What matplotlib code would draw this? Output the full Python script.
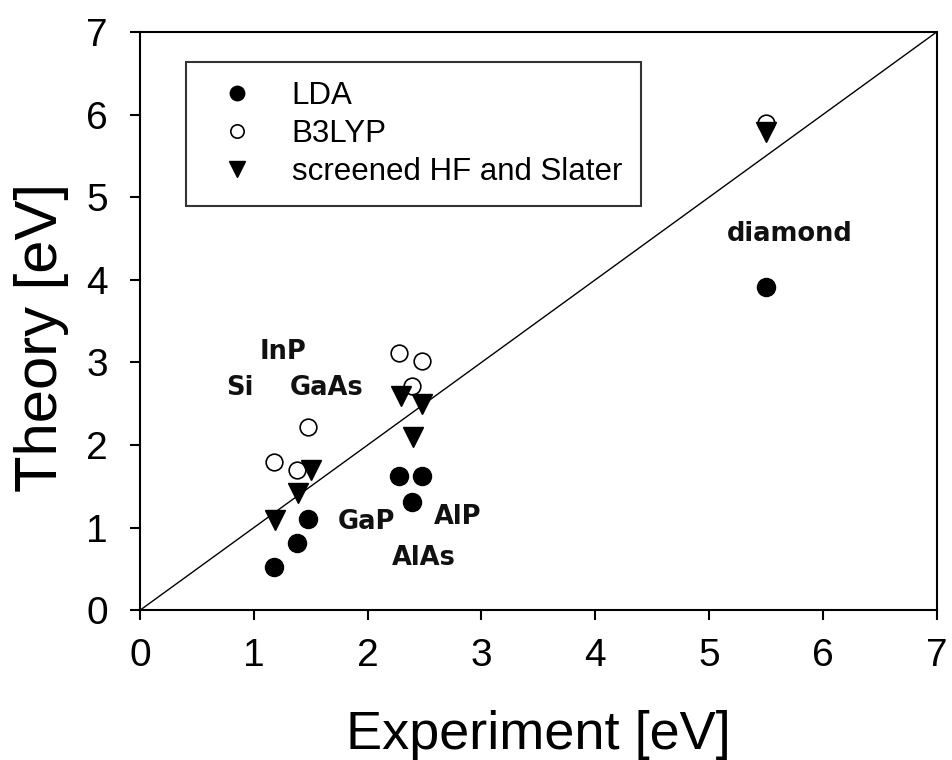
import matplotlib
matplotlib.use("Agg")
import matplotlib.pyplot as plt

# Band gaps
lda_exp = [1.18, 1.38, 1.48, 2.28, 2.48, 2.39, 5.5]
lda_th = [0.52, 0.81, 1.11, 1.63, 1.63, 1.31, 3.91]

b3lyp_exp = [1.18, 1.38, 1.48, 2.28, 2.48, 2.39, 5.5]
b3lyp_th = [1.80, 1.70, 2.22, 3.11, 3.02, 2.72, 5.90]

shf_exp = [1.19, 1.39, 1.50, 2.29, 2.48, 2.40, 5.5]
shf_th = [1.09, 1.42, 1.70, 2.59, 2.50, 2.10, 5.79]

# Material labels and their positions (data units)
materials = ["diamond", "InP", "Si", "GaAs", "GaP", "AlP", "AlAs"]
label_x = [5.71, 1.26, 0.88, 1.64, 1.99, 2.79, 2.49]
label_y = [4.56, 3.12, 2.69, 2.69, 1.07, 1.13, 0.63]

ticks = [0, 1, 2, 3, 4, 5, 6, 7]

plt.rcParams['font.family'] = ['Liberation Sans', 'DejaVu Sans']

fig = plt.figure(figsize=(9.52, 7.6), dpi=100)
ax = fig.add_axes([0.147, 0.197, 0.837, 0.761])

# 1:1 line
ax.plot([0, 7], [0, 7], color="black", linewidth=1.0, zorder=1)

ax.plot(lda_exp, lda_th, linestyle="none", marker="o", markersize=13,
        color="black", label="LDA", zorder=3)
ax.plot(b3lyp_exp, b3lyp_th, linestyle="none", marker="o", markersize=12,
        markerfacecolor="white", markeredgecolor="black", markeredgewidth=1.2,
        label="B3LYP", zorder=2)
ax.plot(shf_exp, shf_th, linestyle="none", marker="v", markersize=14,
        color="black", label="screened HF and Slater", zorder=4)

for name, x, y in zip(materials, label_x, label_y):
    ax.text(x, y, name, ha="center", va="center", fontsize=18.5,
            fontweight="bold", family="DejaVu Sans", color="#111111")

ax.set_xlim(0, 7)
ax.set_ylim(0, 7)
ax.set_xticks(ticks)
ax.set_yticks(ticks)
ax.tick_params(direction="out", length=7, width=1.5, labelsize=28)
ax.tick_params(axis="x", pad=13)
ax.tick_params(axis="y", pad=16)
for sp in ax.spines.values():
    sp.set_linewidth(1.5)

ax.set_xlabel("Experiment [eV]", fontsize=39)
ax.set_ylabel("Theory [eV]", fontsize=43)
ax.xaxis.set_label_coords(0.5, -0.215)
ax.yaxis.set_label_coords(-0.123, 0.472)
ax.xaxis.label.set_verticalalignment("center")
ax.yaxis.label.set_verticalalignment("center")

leg = ax.legend(loc="upper left", bbox_to_anchor=(0.0577, 0.948), fontsize=22.5,
                frameon=True, fancybox=False, edgecolor="black",
                markerscale=0.8, handlelength=2.06, handletextpad=0.73,
                labelspacing=0.26, borderpad=0.6, borderaxespad=0)
leg.get_frame().set_linewidth(1.5)

fig.savefig("out.png", dpi=100)
